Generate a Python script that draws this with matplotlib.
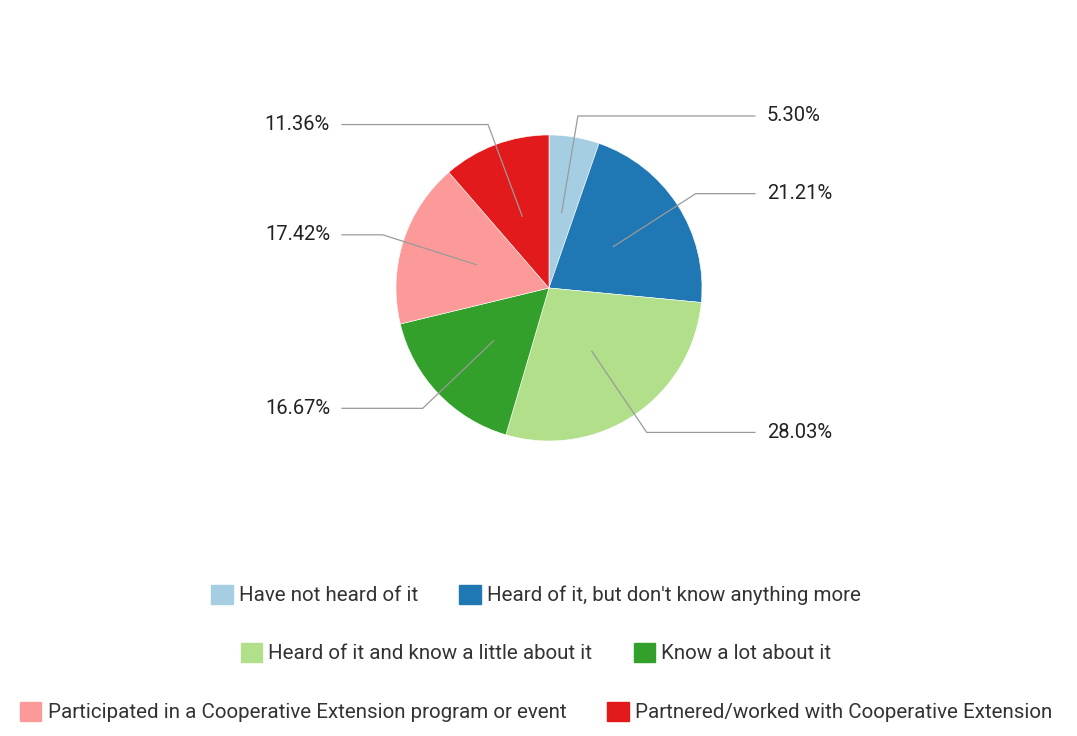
import numpy as np
import matplotlib
matplotlib.use("Agg")
from matplotlib import pyplot as plt
from matplotlib.patches import Patch

plt.rcParams['font.family'] = ['Roboto', 'DejaVu Sans']

# data
categories = ["Have not heard of it",
              "Heard of it, but don't know anything more",
              "Heard of it and know a little about it",
              "Know a lot about it",
              "Participated in a Cooperative Extension program or event",
              "Partnered/worked with Cooperative Extension"]
shares = [5.30, 21.21, 28.03, 16.67, 17.42, 11.36]
colors = ["#a6cee3", "#1f78b4", "#b2df8a", "#33a02c", "#fb9a99", "#e31a1c"]

fig = plt.figure(figsize=(10.77, 7.36), dpi=100)
ax = fig.add_axes([0, 0, 1, 1])

wedges, _ = ax.pie(shares, colors=colors, startangle=90, counterclock=False,
                   radius=1, center=(0, 0),
                   wedgeprops=dict(edgecolor='white', linewidth=0.4))
# pie resets the limits, so set them afterwards
ax.set_xlim(-3.588, 3.451)
ax.set_ylim(-2.928, 1.882)
ax.set_aspect('equal')
ax.axis('off')

# leader lines + labels
for w, val in zip(wedges, shares):
    mid = np.deg2rad((w.theta1 + w.theta2) / 2)
    x0, y0 = 0.5 * np.cos(mid), 0.5 * np.sin(mid)
    x1, y1 = 1.14 * np.cos(mid), 1.14 * np.sin(mid)
    if np.cos(mid) >= 0:
        x2, xt, ha = 1.346, 1.425, 'left'
    else:
        x2, xt, ha = -1.353, -1.431, 'right'
    ax.plot([x0, x1, x2], [y0, y1, y1], color='#9a9a9a', lw=0.9,
            solid_joinstyle='miter')
    ax.text(xt, y1, f"{val:.2f}%", ha=ha, va='center', fontsize=14.5,
            color='#222222')

# legend in three rows
handles = [Patch(facecolor=c, edgecolor=c, label=l)
           for c, l in zip(colors, categories)]
rows_y = [0.1916, 0.1128, 0.0326]
for i, ry in enumerate(rows_y):
    leg = fig.legend(handles=handles[2 * i:2 * i + 2], ncol=2,
                     loc='center', bbox_to_anchor=(0.4977, ry),
                     frameon=False, fontsize=14.8,
                     handlelength=1.05, handleheight=1.05,
                     handletextpad=0.3, columnspacing=2.0,
                     borderpad=0, borderaxespad=0)
    for t in leg.get_texts():
        t.set_color('#333333')

fig.savefig("out.png", dpi=100, facecolor='white')
